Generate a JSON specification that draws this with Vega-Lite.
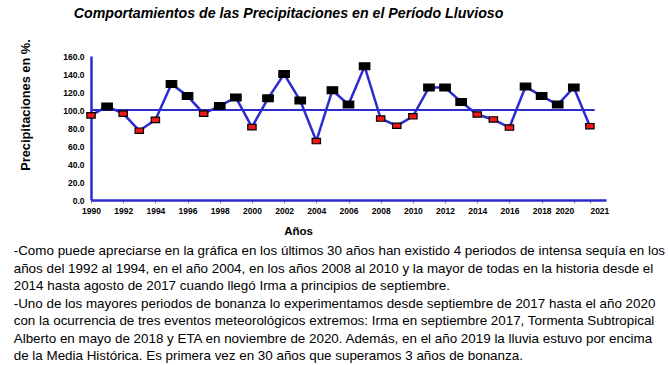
{
  "$schema": "https://vega.github.io/schema/vega-lite/v6.json",
  "background": "white",
  "padding": {"left": 13, "top": 6, "right": 4, "bottom": 4},
  "config": {
    "view": {"stroke": null},
    "font": "Liberation Sans",
    "axis": {"labelOverlap": false},
    "axisQuantitative": {"labelOverlap": false},
    "axisX": {"labelOverlap": false},
    "axisY": {"labelOverlap": false}
  },
  "title": {
    "text": "Comportamientos de las Precipitaciones en el Período Lluvioso",
    "anchor": "start",
    "frame": "bounds",
    "dx": 60,
    "offset": 18,
    "font": "Liberation Sans",
    "fontSize": 14.2,
    "fontStyle": "italic",
    "fontWeight": "bold",
    "color": "black"
  },
  "vconcat": [
    {
      "width": 515,
      "height": 144,
      "title": {
        "text": [
          "-Como puede apreciarse en la gráfica en los últimos 30 años han existido 4 periodos de intensa sequía en los",
          "años del 1992 al 1994, en el año 2004, en los años 2008 al 2010 y la mayor de todas en la historia desde el",
          "2014 hasta agosto de 2017 cuando llegó Irma a principios de septiembre.",
          "-Uno de los mayores periodos de bonanza lo experimentamos desde septiembre de 2017 hasta el año 2020",
          "con la ocurrencia de tres eventos meteorológicos extremos: Irma en septiembre 2017, Tormenta Subtropical",
          "Alberto en mayo de 2018 y ETA en noviembre de 2020. Además, en el año 2019 la lluvia estuvo por encima",
          "de la Media Histórica. Es primera vez en 30 años que superamos 3 años de bonanza."
        ],
        "orient": "bottom",
        "anchor": "start",
        "frame": "bounds",
        "dx": -6,
        "offset": 7,
        "font": "Liberation Sans",
        "fontSize": 13.4,
        "fontWeight": "normal",
        "lineHeight": 17.5,
        "color": "black"
      },
      "data": {
        "values": [
          {"anio": 1990, "valor": 94},
          {"anio": 1991, "valor": 104},
          {"anio": 1992, "valor": 96},
          {"anio": 1993, "valor": 77},
          {"anio": 1994, "valor": 89},
          {"anio": 1995, "valor": 129},
          {"anio": 1996, "valor": 115.5},
          {"anio": 1997, "valor": 96},
          {"anio": 1998, "valor": 104.5},
          {"anio": 1999, "valor": 114},
          {"anio": 2000, "valor": 81},
          {"anio": 2001, "valor": 113},
          {"anio": 2002, "valor": 140},
          {"anio": 2003, "valor": 110.5},
          {"anio": 2004, "valor": 65.5},
          {"anio": 2005, "valor": 122},
          {"anio": 2006, "valor": 106},
          {"anio": 2007, "valor": 148.5},
          {"anio": 2008, "valor": 90.5},
          {"anio": 2009, "valor": 82.5},
          {"anio": 2010, "valor": 93},
          {"anio": 2011, "valor": 125},
          {"anio": 2012, "valor": 125},
          {"anio": 2013, "valor": 109},
          {"anio": 2014, "valor": 95},
          {"anio": 2015, "valor": 89.5},
          {"anio": 2016, "valor": 80.5},
          {"anio": 2017, "valor": 126},
          {"anio": 2018, "valor": 115.5},
          {"anio": 2019, "valor": 106},
          {"anio": 2020, "valor": 125},
          {"anio": 2021, "valor": 82}
        ]
      },
      "encoding": {
        "x": {
          "field": "anio",
          "type": "quantitative",
          "scale": {"domain": [1990, 2022], "nice": false, "zero": false},
          "axis": {
            "title": "Años",
            "values": [1990, 1992, 1994, 1996, 1998, 2000, 2002, 2004, 2006, 2008, 2010, 2012, 2014, 2016, 2018, 2020, 2021],
            "format": "d",
            "labelOverlap": false,
            "labelAlign": {"condition": [{"test": "datum.value == 2021", "value": "left"}, {"test": "datum.value == 2020", "value": "right"}], "value": "center"},
            "labelFont": "Liberation Sans",
            "labelFontSize": 8.5,
            "labelFontWeight": "bold",
            "labelColor": "black",
            "labelPadding": 3,
            "domainColor": "#2b2bcf",
            "domainWidth": 2.5,
            "tickColor": "#888888",
            "tickSize": 3,
            "grid": false,
            "titleFont": "Liberation Sans",
            "titleFontSize": 11.5,
            "titleFontWeight": "bold",
            "titleColor": "black",
            "titleX": 207,
            "titlePadding": 11
          }
        },
        "y": {
          "field": "valor",
          "type": "quantitative",
          "scale": {"domain": [0, 160], "nice": false},
          "axis": {
            "title": "Precipitaciones en %.",
            "values": [0, 20, 40, 60, 80, 100, 120, 140, 160],
            "format": ".1f",
            "labelOverlap": false,
            "labelFont": "Liberation Sans",
            "labelFontSize": 8.5,
            "labelFontWeight": "bold",
            "labelColor": "black",
            "labelPadding": 7,
            "ticks": false,
            "domainColor": "#2b2bcf",
            "domainWidth": 2.5,
            "grid": false,
            "titleFont": "Liberation Sans",
            "titleFontSize": 12.8,
            "titleFontWeight": "bold",
            "titleColor": "black",
            "titlePadding": 30,
            "titleY": 48.5
          }
        }
      },
      "layer": [
        {
          "mark": {"type": "line", "color": "#2b2bcf", "strokeWidth": 2.5}
        },
        {
          "data": {"values": [{"anio": 1990, "hasta": 2021.3, "valor": 100}]},
          "mark": {"type": "rule", "color": "#2b2bcf", "strokeWidth": 2},
          "encoding": {
            "x2": {"field": "hasta"}
          }
        },
        {
          "mark": {"type": "point", "filled": true, "shape": "M-1,-0.65H1V0.65H-1Z", "stroke": "black", "strokeWidth": 1.2, "opacity": 1},
          "encoding": {
            "color": {"condition": {"test": "datum.valor < 100", "value": "#f01818"}, "value": "black"},
            "size": {"condition": {"test": "datum.valor < 100", "value": 70}, "value": 110}
          }
        }
      ]
    }
  ]
}
